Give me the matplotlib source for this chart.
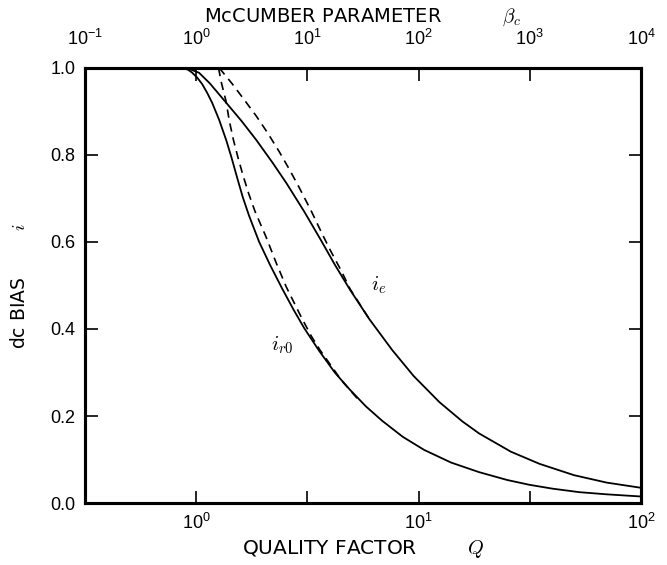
import numpy as np
import matplotlib
matplotlib.use("Agg")
import matplotlib.pyplot as plt
from matplotlib.ticker import FixedLocator, NullLocator, LogFormatterMathtext

plt.rcParams['font.family'] = ['Liberation Sans', 'DejaVu Sans']
plt.rcParams['mathtext.fontset'] = 'cm'

# retrapping current i_r0 vs quality factor Q (solid)
Q_r0 = [0.865, 0.92, 0.96, 1.01, 1.064, 1.12, 1.18, 1.27, 1.365, 1.44,
        1.528, 1.62, 1.73, 1.92, 2.15, 2.435, 2.75, 3.06, 3.57, 4.2,
        4.88, 5.8, 6.86, 8.5, 10.6, 14.0, 18.7, 25.0, 31.4, 40.0,
        52.7, 70.0, 100.0]
i_r0 = [1.0, 0.996, 0.989, 0.978, 0.963, 0.943, 0.920, 0.880, 0.834, 0.795,
        0.748, 0.703, 0.660, 0.600, 0.547, 0.493, 0.443, 0.402, 0.350, 0.300,
        0.262, 0.222, 0.189, 0.152, 0.122, 0.093, 0.071, 0.053, 0.042, 0.033,
        0.025, 0.020, 0.015]

# large-Q approximation of i_r0 (dashed)
Q_r0_approx = [1.26, 1.30, 1.36, 1.41, 1.47, 1.54, 1.62, 1.72, 1.84, 2.06,
               2.29, 2.54, 2.99, 3.3, 3.6, 4.5, 5.5]
i_r0_approx = [1.0, 0.965, 0.925, 0.878, 0.835, 0.795, 0.755, 0.712, 0.670, 0.612,
               0.552, 0.497, 0.424, 0.383, 0.352, 0.282, 0.231]

# i_e vs Q (solid)
Q_e = [0.883, 0.95, 1.03, 1.15, 1.365, 1.6, 1.86, 2.2, 2.54, 3.06,
       3.65, 4.2, 4.92, 6.0, 7.6, 9.5, 12.4, 15.7, 18.7, 26.0,
       35.0, 50.0, 70.0, 100.0]
i_e = [1.0, 0.996, 0.989, 0.965, 0.920, 0.878, 0.835, 0.783, 0.736, 0.670,
       0.603, 0.548, 0.490, 0.423, 0.352, 0.292, 0.232, 0.188, 0.160, 0.118,
       0.090, 0.064, 0.047, 0.035]

# approximation of i_e (dashed)
Q_e_approx = [1.27, 1.45, 1.65, 1.86, 2.1, 2.36, 2.63, 2.9, 3.3, 3.69,
              4.0, 4.5, 4.92, 6.0]
i_e_approx = [1.0, 0.964, 0.926, 0.890, 0.850, 0.808, 0.766, 0.726, 0.670, 0.618,
              0.582, 0.533, 0.492, 0.423]

fig = plt.figure(figsize=(6.67, 5.65), dpi=100)
ax = fig.add_axes([0.1274, 0.1097, 0.8336, 0.770])

ax.plot(Q_r0, i_r0, color='black', lw=1.3)
ax.plot(Q_e, i_e, color='black', lw=1.3)
ax.plot(Q_r0_approx, i_r0_approx, color='black', lw=1.2, ls=(0, (5, 3.5)))
ax.plot(Q_e_approx, i_e_approx, color='black', lw=1.2, ls=(0, (5, 3.5)))

ax.text(6.65, 0.50, r'$i_e$', fontsize=15, ha='center', va='center')
ax.text(2.44, 0.363, r'$i_{r0}$', fontsize=15, ha='center', va='center')

ax.set_xscale('log')
ax.set_xlim(10 ** -0.5, 100)
ax.set_ylim(0, 1.0)
ax.xaxis.set_major_locator(FixedLocator([1, 10 ** 0.5, 10, 10 ** 1.5, 100]))
ax.xaxis.set_minor_locator(NullLocator())
ax.set_xticklabels([r'$\mathdefault{10^{0}}$', '', r'$\mathdefault{10^{1}}$', '',
                    r'$\mathdefault{10^{2}}$'])
ax.set_yticks([0, 0.2, 0.4, 0.6, 0.8, 1.0])
ax.set_yticklabels(['0.0', '0.2', '0.4', '0.6', '0.8', '1.0'])
ax.tick_params(direction='in', length=9, width=1.2, labelsize=13, pad=7,
               right=True)

# McCumber parameter on top: beta_c = Q^2
ax2 = ax.twiny()
ax2.set_xscale('log')
ax2.set_xlim(0.1, 1e4)
ax2.xaxis.set_major_locator(FixedLocator([0.1, 1, 10, 100, 1000, 1e4]))
ax2.xaxis.set_minor_locator(NullLocator())
ax2.xaxis.set_major_formatter(LogFormatterMathtext())
ax2.tick_params(direction='in', length=9, width=1.2, labelsize=13, pad=14)

for a in (ax, ax2):
    for s in a.spines.values():
        s.set_linewidth(2.2)

ax.set_xlabel('QUALITY FACTOR' + ' ' * 8 + r'$Q$', labelpad=4,
              fontsize=14.5, family='DejaVu Sans')
ax.set_ylabel('dc BIAS' + ' ' * 8 + r'$i$', labelpad=15,
              fontsize=13.5, family='DejaVu Sans')
ax2.set_xlabel('McCUMBER PARAMETER' + ' ' * 10 + r'$\beta_c$', labelpad=5,
               fontsize=14, family='DejaVu Sans')

fig.savefig('out.png', dpi=100)
